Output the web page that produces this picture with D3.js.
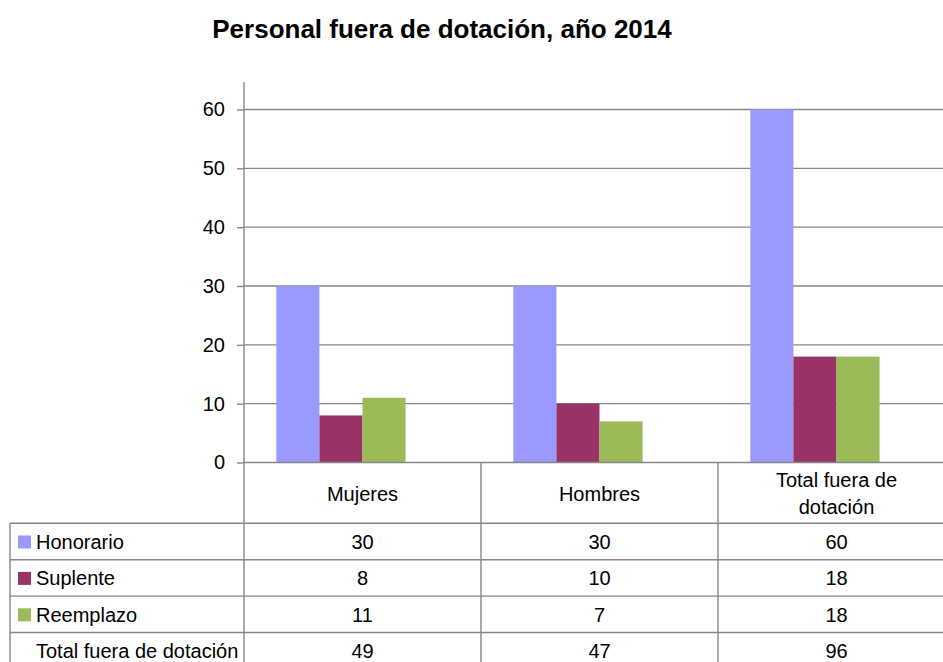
<!DOCTYPE html>
<html>
<head>
<meta charset="utf-8">
<script src="https://cdn.jsdelivr.net/npm/d3@7"></script>
<style>
  body { margin: 0; background: #fff; }
  text { font-family: "Liberation Sans", Arial, sans-serif; fill: #000; }
</style>
</head>
<body>
<div id="chart"></div>
<script>
// data
var categories = ["Mujeres", "Hombres", "Total fuera de dotación"];
var series = ["Honorario", "Suplente", "Reemplazo", "Total fuera de dotación"];
var honorario = [30, 30, 60];
var suplente = [8, 10, 18];
var reemplazo = [11, 7, 18];
var totalFuera = [49, 47, 96];
var yTicks = [0, 10, 20, 30, 40, 50, 60];

var values = [honorario, suplente, reemplazo, totalFuera];
var colors = ["#9999FF", "#993366", "#9BBB59", "none"];

var width = 943, height = 662;
var grey = "#878787";

var svg = d3.select("#chart").append("svg")
    .attr("width", width)
    .attr("height", height);

svg.append("text")
    .attr("x", 442)
    .attr("y", 38)
    .attr("text-anchor", "middle")
    .style("font-size", "26px")
    .style("font-weight", "bold")
    .text("Personal fuera de dotación, año 2014");

var left = 244, band = 237;

var x = d3.scaleBand()
    .domain(categories)
    .range([left, left + band * categories.length]);

// 4 series (the total one has no fill), gap width ~150%
var xs = d3.scaleBand()
    .domain(series)
    .range([0, x.bandwidth()])
    .paddingOuter(0.75);

var y = d3.scaleLinear()
    .domain([0, 60])
    .range([462.5, 109.5]);

// gridlines
svg.append("g")
  .selectAll("line")
    .data(yTicks.slice(1))
  .enter().append("line")
    .attr("x1", left).attr("x2", width)
    .attr("y1", function(d) { return y(d); })
    .attr("y2", function(d) { return y(d); })
    .style("stroke", grey)
    .style("stroke-width", 1.4);

// y axis
var yAxis = svg.append("g")
    .attr("transform", "translate(" + left + ",0)")
    .call(d3.axisLeft(y).tickValues(yTicks).tickSize(7).tickPadding(12));
yAxis.select(".domain").remove();
yAxis.selectAll(".tick line").style("stroke", grey).style("stroke-width", 1.4);
yAxis.selectAll(".tick text")
    .style("font-size", "20px")
    .style("font-family", "'Liberation Sans', Arial, sans-serif")
    .attr("fill", "#000");

// bars
var groups = svg.append("g")
  .selectAll("g")
    .data(categories)
  .enter().append("g")
    .attr("transform", function(d) { return "translate(" + x(d) + ",0)"; });

groups.selectAll("rect")
    .data(function(c, i) {
      return series.map(function(s, j) { return {s: s, v: values[j][i], c: colors[j]}; });
    })
  .enter().append("rect")
    .attr("x", function(d) { return xs(d.s); })
    .attr("width", xs.bandwidth())
    .attr("y", function(d) { return y(d.v); })
    .attr("height", function(d) { return y(0) - y(d.v); })
    .style("fill", function(d) { return d.c; });

// data table
var tableLeft = 10, rowTop = 523.3, rowH = 36.4;
var lines = svg.append("g").style("stroke", grey).style("stroke-width", 1.4);

// zero line / table top
lines.append("line").attr("x1", left).attr("x2", width)
    .attr("y1", y(0)).attr("y2", y(0));
series.forEach(function(s, i) {
  lines.append("line").attr("x1", tableLeft).attr("x2", width)
      .attr("y1", rowTop + i * rowH).attr("y2", rowTop + i * rowH);
});
lines.append("line").attr("x1", tableLeft).attr("x2", tableLeft)
    .attr("y1", rowTop).attr("y2", height);
lines.append("line").attr("x1", left).attr("x2", left)
    .attr("y1", 82).attr("y2", height);
categories.slice(1).forEach(function(c) {
  lines.append("line").attr("x1", x(c)).attr("x2", x(c))
      .attr("y1", y(0)).attr("y2", height);
});

// header row
var headerMid = (y(0) + rowTop) / 2;
categories.forEach(function(c) {
  var cx = x(c) + x.bandwidth() / 2;
  if (c === "Total fuera de dotación") {
    var t = svg.append("text").attr("text-anchor", "middle").style("font-size", "20px");
    t.append("tspan").attr("x", cx).attr("y", headerMid - 13).attr("dy", ".35em").text("Total fuera de");
    t.append("tspan").attr("x", cx).attr("y", headerMid + 14).attr("dy", ".35em").text("dotación");
  } else {
    svg.append("text")
        .attr("x", cx).attr("y", headerMid + 1).attr("dy", ".35em")
        .attr("text-anchor", "middle")
        .style("font-size", "20px")
        .text(c);
  }
});

// series rows
series.forEach(function(s, i) {
  var cy = rowTop + i * rowH + rowH / 2 + 0.5;
  if (colors[i] !== "none") {
    svg.append("rect")
        .attr("x", 18).attr("y", cy - 6.5)
        .attr("width", 13).attr("height", 13)
        .style("fill", colors[i]);
  }
  svg.append("text")
      .attr("x", 36).attr("y", cy).attr("dy", ".35em")
      .style("font-size", "20px")
      .text(s);
  categories.forEach(function(c, k) {
    svg.append("text")
        .attr("x", x(c) + x.bandwidth() / 2).attr("y", cy).attr("dy", ".35em")
        .attr("text-anchor", "middle")
        .style("font-size", "20px")
        .text(values[i][k]);
  });
});
</script>
</body>
</html>
